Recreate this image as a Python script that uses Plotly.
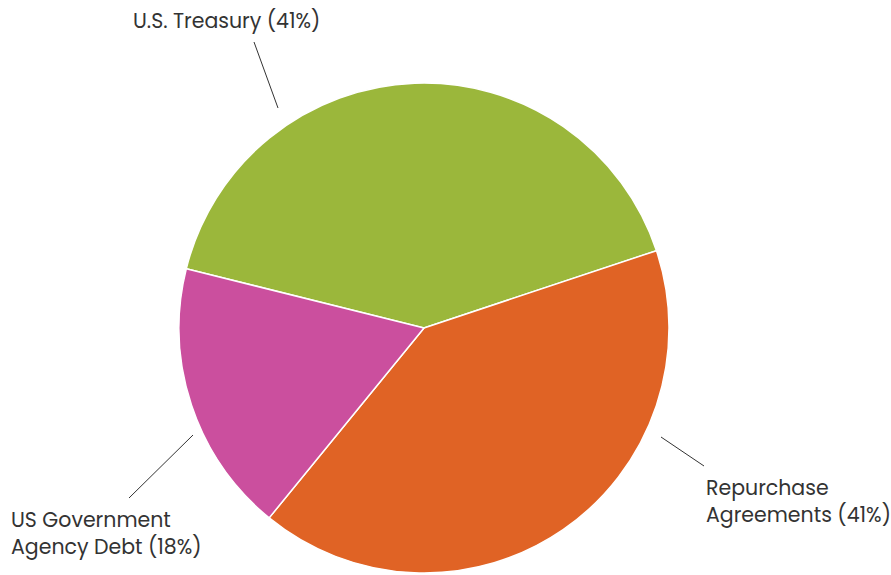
import plotly.graph_objects as go

labels = ["U.S. Treasury", "Repurchase Agreements", "US Government Agency Debt"]
values = [41, 41, 18]
colors = ["#9BB73B", "#E06325", "#CB4F9E"]
label_texts = ["U.S. Treasury (41%)", "Repurchase<br>Agreements (41%)", "US Government<br>Agency Debt (18%)"]

W, H = 891, 575

fig = go.Figure(go.Pie(
    labels=labels, values=values, sort=False, direction="clockwise",
    rotation=-76.0,
    marker=dict(colors=colors, line=dict(color="white", width=1.5)),
    textinfo="none", hoverinfo="label+percent",
    domain=dict(x=[179/W, 669/W], y=[2/H, 492/H]),
    showlegend=False,
))

def px(x, y):
    return x / W, 1 - y / H

font = dict(family="Poppins, Lato, Open Sans, sans-serif", size=20.5, color="#333333")

# leader lines (paper coords)
lines = [((254, 42), (278, 108)), ((661, 437), (704, 466)), ((193, 435), (129, 498))]
for (a, b) in lines:
    x0, y0 = px(*a); x1, y1 = px(*b)
    fig.add_shape(type="line", xref="paper", yref="paper", x0=x0, y0=y0, x1=x1, y1=y1,
                  line=dict(color="#333333", width=1))

anns = [
    (label_texts[0], 131, 21, "left"),
    (label_texts[1], 704, 501, "left"),
    (label_texts[2], 9, 533, "left"),
]
for text, x, y, al in anns:
    ax, ay = px(x, y)
    fig.add_annotation(text=text, x=ax, y=ay, xref="paper", yref="paper", showarrow=False,
                       xanchor="left", yanchor="middle", align=al, font=font)

fig.update_layout(width=W, height=H, margin=dict(l=0, r=0, t=0, b=0),
                  paper_bgcolor="white", plot_bgcolor="white")

fig.write_html("out.html", post_script="document.body.style.margin='0';",
               config={"displayModeBar": False})
